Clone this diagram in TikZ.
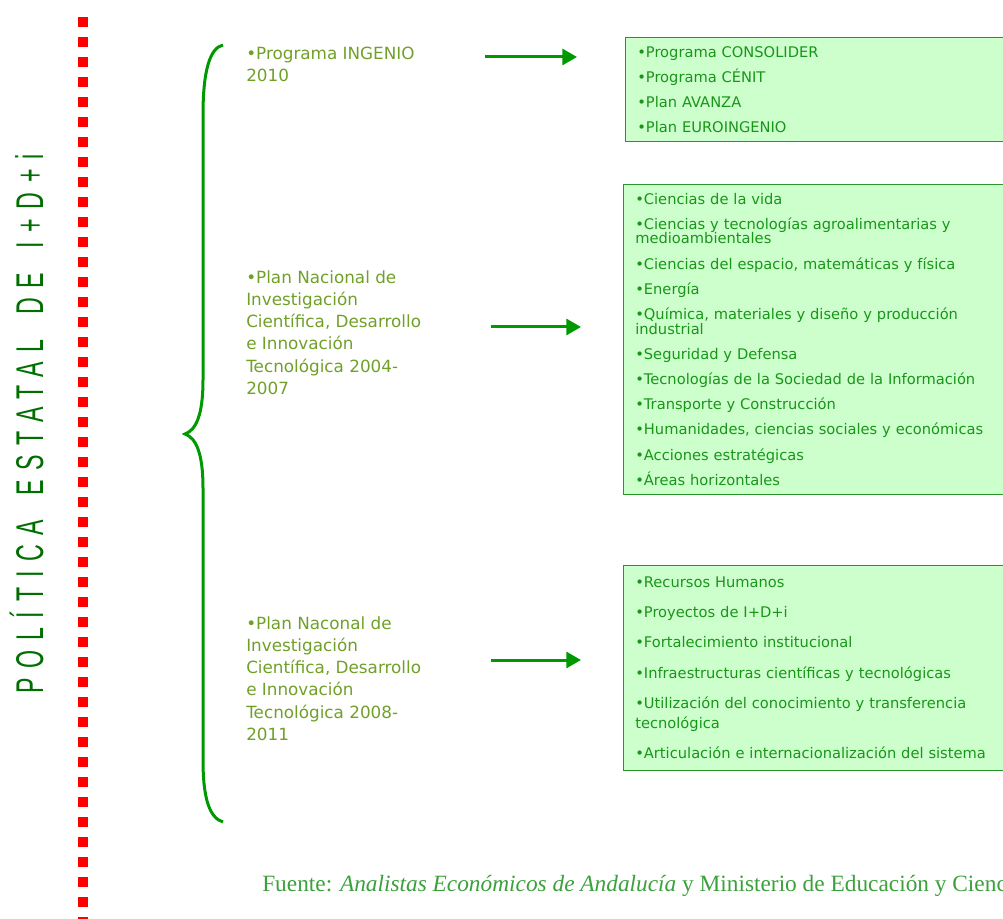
\documentclass[tikz,border=0pt]{standalone}
\usepackage{fontspec}
\setmainfont{Liberation Serif}
\newfontfamily\itemfont{DejaVu Sans}
\newfontfamily\titlefont{Liberation Sans}
\usetikzlibrary{arrows.meta, positioning}

\definecolor{bracegreen}{RGB}{0,153,0}
\definecolor{olivetext}{RGB}{112,160,40}
\definecolor{listgreen}{RGB}{25,150,25}
\definecolor{boxfill}{RGB}{204,255,204}
\definecolor{boxline}{RGB}{40,150,40}
\definecolor{titlegreen}{RGB}{0,110,0}
\definecolor{sourcegreen}{RGB}{60,160,60}

\newcommand{\wordgap}{\hspace{10pt}}

\tikzset{
  listbox/.style={rectangle, draw=boxline, fill=boxfill, anchor=north west, align=left,
    text width=292pt, inner xsep=9pt, minimum width=310pt, text=listgreen,
    font=\itemfont\fontsize{11}{#1}\selectfont},
  plantext/.style={anchor=north west, align=left, inner sep=0pt, text=olivetext,
    font=\itemfont\fontsize{12.6}{16.7}\selectfont},
  arrow/.style={draw=bracegreen, line width=2.25pt, -{Triangle[length=11pt,width=12pt]}},
}

\begin{document}
\begin{tikzpicture}[x=0.75pt, y=-0.75pt]
    \path[use as bounding box] (0,0) rectangle (1003,919);
    \clip (0,0) rectangle (1003,919);

    %Title and dotted rule
    \node (title) [rotate=90, anchor=base, inner sep=0pt, text=titlegreen,
      font=\titlefont\fontsize{29}{29}\selectfont] at (43,424)
      {\scalebox{0.6}[1]{\addfontfeature{LetterSpace=42}POLÍTICA \wordgap ESTATAL \wordgap DE \wordgap I+D+i}};
    \draw [red, line width=7.5pt, dash pattern=on 7.5pt off 7.5pt] (83,17) -- (83,925);

    %Brace
    \draw [bracegreen, line width=2.25pt]
      (223,45) .. controls (210,48) and (203,70) .. (203,115) -- (203,380)
      .. controls (203,415) and (196,430) .. (185,434)
      .. controls (196,438) and (203,453) .. (203,488) -- (203,760)
      .. controls (203,800) and (210,818) .. (223,822);

    %Plans
    \node (ingenio) [plantext] at (246,47) {•Programa INGENIO\\2010};
    \node (plan04) [plantext] at (246,270) {•Plan Nacional de\\Investigación\\Científica, Desarrollo\\e Innovación\\Tecnológica 2004-\\2007};
    \node (plan08) [plantext] at (246,616) {•Plan Naconal de\\Investigación\\Científica, Desarrollo\\e Innovación\\Tecnológica 2008-\\2011};

    %Boxes
    \node (box1) [listbox=18.75pt, minimum height=78pt] at (625,37)
      {•Programa CONSOLIDER\\•Programa CÉNIT\\•Plan AVANZA\\•Plan EUROINGENIO};
    \node (box2) [listbox=18.9pt, minimum height=232.5pt] at (623,184)
      {•Ciencias de la vida\\
       •Ciencias y tecnologías agroalimentarias y\\[-8pt]medioambientales\\
       •Ciencias del espacio, matemáticas y física\\
       •Energía\\
       •Química, materiales y diseño y producción\\[-8pt]industrial\\
       •Seguridad y Defensa\\
       •Tecnologías de la Sociedad de la Información\\
       •Transporte y Construcción\\
       •Humanidades, ciencias sociales y económicas\\
       •Acciones estratégicas\\
       •Áreas horizontales};
    \node (box3) [listbox=22.7pt, minimum height=153.75pt] at (623,565)
      {•Recursos Humanos\\
       •Proyectos de I+D+i\\
       •Fortalecimiento institucional\\
       •Infraestructuras científicas y tecnológicas\\
       •Utilización del conocimiento y transferencia\\[-7.7pt]tecnológica\\
       •Articulación e internacionalización del sistema};

    %Arrows
    \coordinate (a1s) at (485,57);
    \coordinate (a1e) at (577,57);
    \coordinate (a2s) at (491,327);
    \coordinate (a2e) at (581,327);
    \coordinate (a3s) at (491,660);
    \coordinate (a3e) at (581,660);
    \draw [arrow] (a1s) -- (a1e);
    \draw [arrow] (a2s) -- (a2e);
    \draw [arrow] (a3s) -- (a3e);

    %Source
    \node (source) [anchor=base west, inner sep=0pt, text=sourcegreen,
      font=\fontsize{17.5}{20}\selectfont] at (262,891)
      {Fuente: \textit{Analistas Económicos de Andalucía} y Ministerio de Educación y Ciencia};
\end{tikzpicture}
\end{document}
